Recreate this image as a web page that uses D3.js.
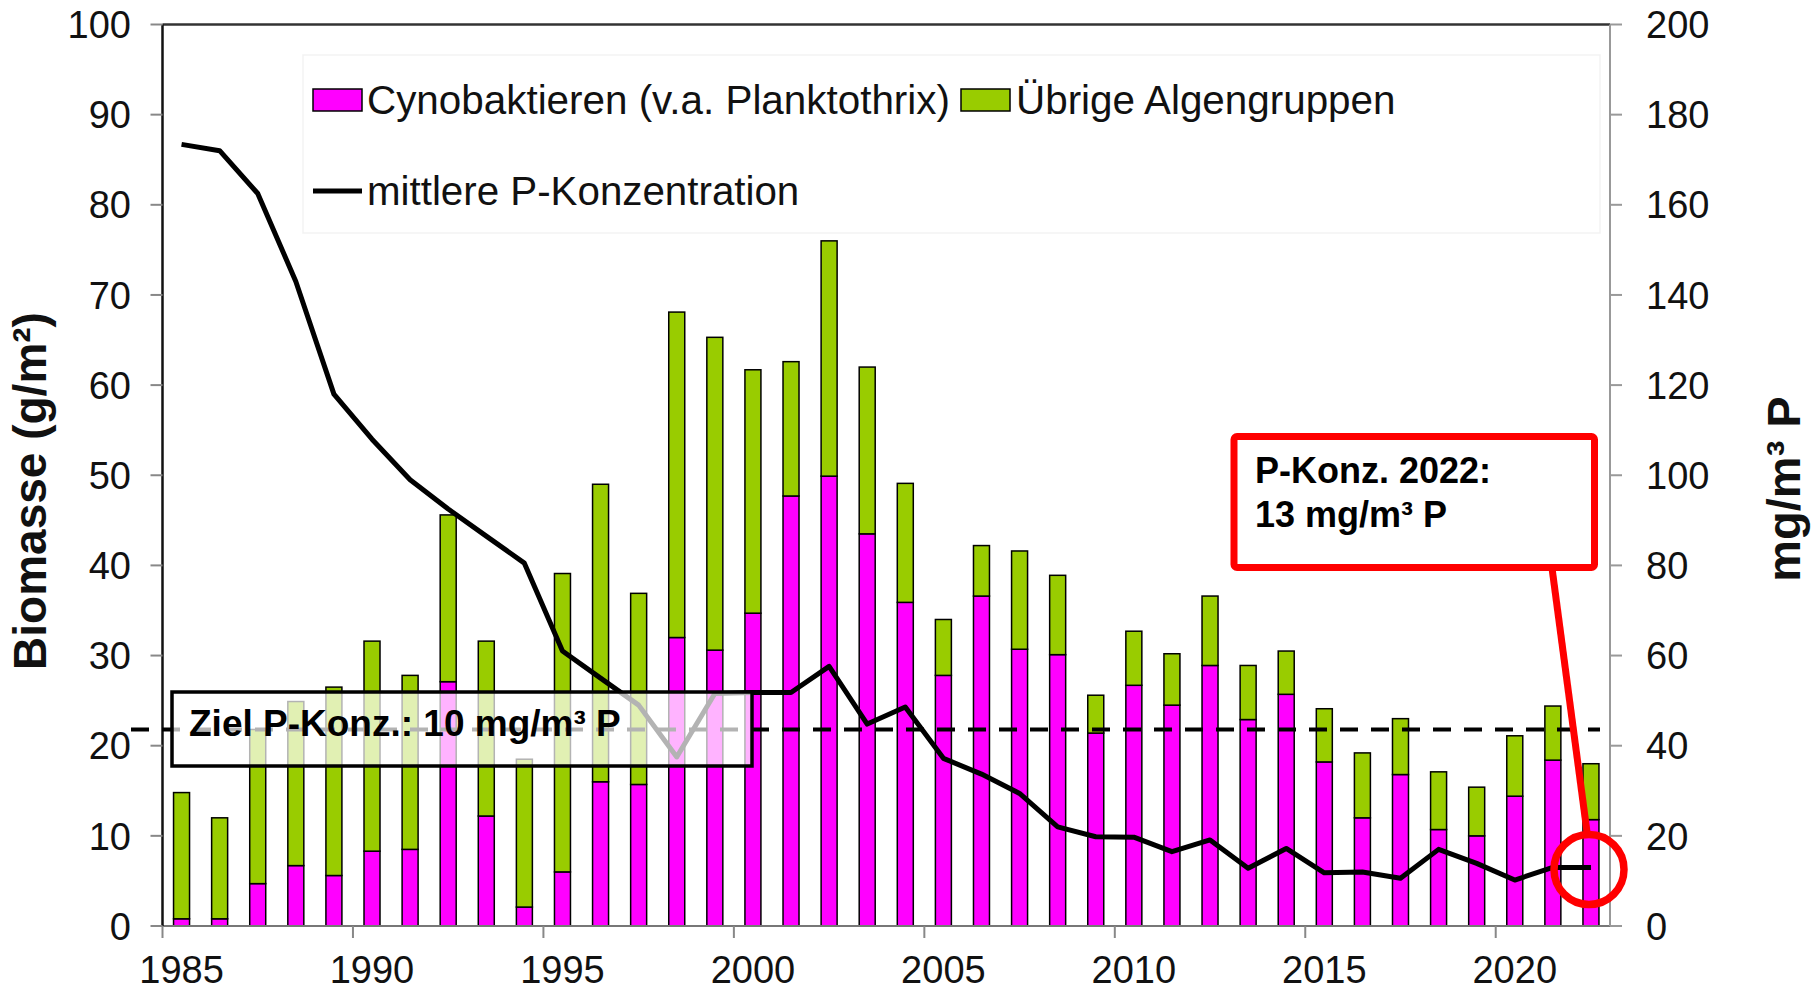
<!DOCTYPE html>
<html><head><meta charset="utf-8">
<script src="https://cdn.jsdelivr.net/npm/d3@7"></script>
<style>
html,body{margin:0;padding:0;background:#fff;}
svg{display:block;font-family:"Liberation Sans",Arial,sans-serif;}
</style></head>
<body>
<svg id="chart" width="1811" height="992"></svg>
<script>
const years = d3.range(1985, 2023);
const cyano = [0.8,0.8,4.7,6.7,5.6,8.3,8.5,27.1,12.2,2.1,6.0,16.0,15.7,32.0,30.6,34.7,47.7,49.9,43.5,35.9,27.8,36.6,30.7,30.1,21.4,26.7,24.5,28.9,22.9,25.7,18.2,12.0,16.8,10.7,10.0,14.4,18.4,11.8];
const other = [14.0,11.2,17.1,18.2,20.9,23.3,19.3,18.5,19.4,16.4,33.1,33.0,21.2,36.1,34.7,27.0,14.9,26.1,18.5,13.2,6.2,5.6,10.9,8.8,4.2,6.0,5.7,7.7,6.0,4.8,5.9,7.2,6.2,6.4,5.4,6.7,6.0,6.2];
const phosphor = [173.4,172.0,162.5,143.0,118.0,108.0,99.0,92.5,86.5,80.5,61.0,55.0,49.0,37.5,51.6,51.8,51.8,57.6,44.8,48.6,37.2,33.7,29.4,22.0,19.8,19.7,16.5,19.1,12.8,17.2,11.8,12.0,10.6,17.0,13.9,10.2,13.0,13.0];
const leftTicks = [0,10,20,30,40,50,60,70,80,90,100];
const rightTicks = [0,20,40,60,80,100,120,140,160,180,200];
const xTickYears = [1985,1990,1995,2000,2005,2010,2015,2020];
const targetLeft = 21.8;
const legendLabels = ["Cynobaktieren (v.a. Planktothrix)", "Übrige Algengruppen", "mittlere P-Konzentration"];
const leftTitle = "Biomasse (g/m²)";
const rightTitle = "mg/m³ P";
const targetLabel = "Ziel P-Konz.: 10 mg/m³ P";
const noteLines = ["P-Konz. 2022:", "13 mg/m³ P"];

const PINK = "#FF00FF", GREEN = "#99CC00", RED = "#FF0000";
const svg = d3.select("#chart");
const L = 162.5, R = 1610, T = 24.5, B = 926;

const x = d3.scaleBand().domain(years).range([L, R]).padding(0);
const yL = d3.scaleLinear().domain([0, 100]).range([B, T]);
const yR = d3.scaleLinear().domain([0, 200]).range([B, T]);
const cx = d => x(d) + x.bandwidth() / 2;
const barW = 16;

// legend frame (very faint)
svg.append("rect").attr("x", 303).attr("y", 55).attr("width", 1297).attr("height", 178)
  .attr("fill", "none").attr("stroke", "#f3f3f3").attr("stroke-width", 1.5);

// bars
const data = years.map((yr, i) => ({yr, c: cyano[i], o: other[i]}));
const bars = svg.append("g");
bars.selectAll("rect.c").data(data).join("rect")
  .attr("x", d => cx(d.yr) - barW / 2).attr("width", barW)
  .attr("y", d => yL(d.c)).attr("height", d => yL(0) - yL(d.c))
  .attr("fill", PINK).attr("stroke", "#000").attr("stroke-width", 1.5);
bars.selectAll("rect.o").data(data).join("rect")
  .attr("x", d => cx(d.yr) - barW / 2).attr("width", barW)
  .attr("y", d => yL(d.c + d.o)).attr("height", d => yL(d.c) - yL(d.c + d.o))
  .attr("fill", GREEN).attr("stroke", "#000").attr("stroke-width", 1.5);

// axes lines
svg.append("line").attr("x1", L).attr("x2", R).attr("y1", T).attr("y2", T).attr("stroke", "#333").attr("stroke-width", 2.5);
svg.append("line").attr("x1", L).attr("x2", R).attr("y1", B).attr("y2", B).attr("stroke", "#777").attr("stroke-width", 2);
svg.append("line").attr("x1", R).attr("x2", R).attr("y1", T).attr("y2", B).attr("stroke", "#999").attr("stroke-width", 2);
svg.append("line").attr("x1", L).attr("x2", L).attr("y1", T).attr("y2", B).attr("stroke", "#111").attr("stroke-width", 2.5);

// left axis ticks & labels
const gl = svg.append("g");
gl.selectAll("line").data(leftTicks).join("line")
  .attr("x1", L - 12).attr("x2", L).attr("y1", d => yL(d)).attr("y2", d => yL(d))
  .attr("stroke", "#888").attr("stroke-width", 2);
gl.selectAll("text").data(leftTicks).join("text")
  .attr("x", 131).attr("y", d => yL(d)).attr("dy", "0.36em")
  .attr("text-anchor", "end").attr("font-size", 38).attr("fill", "#111").text(d => d);

// right axis
const gr = svg.append("g");
gr.selectAll("line").data(rightTicks).join("line")
  .attr("x1", R).attr("x2", R + 12).attr("y1", d => yR(d)).attr("y2", d => yR(d))
  .attr("stroke", "#999").attr("stroke-width", 2);
gr.selectAll("text").data(rightTicks).join("text")
  .attr("x", 1646).attr("y", d => yR(d)).attr("dy", "0.36em")
  .attr("text-anchor", "start").attr("font-size", 38).attr("fill", "#111").text(d => d);

// bottom ticks & labels
const gb = svg.append("g");
gb.selectAll("line").data(xTickYears).join("line")
  .attr("x1", d => x(d)).attr("x2", d => x(d)).attr("y1", B).attr("y2", B + 12)
  .attr("stroke", "#888").attr("stroke-width", 2);
gb.selectAll("text").data(xTickYears).join("text")
  .attr("x", d => cx(d)).attr("y", 983)
  .attr("text-anchor", "middle").attr("font-size", 38).attr("fill", "#111").text(d => d);

// target dashed line
svg.append("line").attr("x1", 131).attr("x2", 1600).attr("y1", yL(targetLeft)).attr("y2", yL(targetLeft))
  .attr("stroke", "#000").attr("stroke-width", 4).attr("stroke-dasharray", "18,13");

// phosphorus line
const line = d3.line().x((d, i) => cx(years[i])).y(d => yR(d));
svg.append("path").datum(phosphor).attr("d", line)
  .attr("fill", "none").attr("stroke", "#000").attr("stroke-width", 5).attr("stroke-linejoin", "round");

// target box
svg.append("rect").attr("x", 172).attr("y", 692).attr("width", 580).attr("height", 74)
  .attr("fill", "#fff").attr("fill-opacity", 0.7).attr("stroke", "#000").attr("stroke-width", 3.5);
svg.append("text").attr("x", 189).attr("y", 736).attr("font-size", 37).attr("font-weight", "bold")
  .attr("fill", "#000").text(targetLabel);

// legend
svg.append("rect").attr("x", 313).attr("y", 89).attr("width", 49).attr("height", 22)
  .attr("fill", PINK).attr("stroke", "#000").attr("stroke-width", 1.5);
svg.append("text").attr("x", 367).attr("y", 114).attr("font-size", 40.4).attr("fill", "#111").text(legendLabels[0]);
svg.append("rect").attr("x", 961).attr("y", 89).attr("width", 49).attr("height", 22)
  .attr("fill", GREEN).attr("stroke", "#000").attr("stroke-width", 1.5);
svg.append("text").attr("x", 1016).attr("y", 114).attr("font-size", 40.4).attr("fill", "#111").text(legendLabels[1]);
svg.append("line").attr("x1", 313).attr("x2", 362).attr("y1", 191).attr("y2", 191)
  .attr("stroke", "#000").attr("stroke-width", 5);
svg.append("text").attr("x", 367).attr("y", 205).attr("font-size", 40.3).attr("fill", "#111").text(legendLabels[2]);

// axis titles
svg.append("text").attr("transform", "translate(46,491) rotate(-90)").attr("text-anchor", "middle")
  .attr("font-size", 46).attr("font-weight", "bold").attr("fill", "#111").text(leftTitle);
svg.append("text").attr("transform", "translate(1800,489) rotate(-90)").attr("text-anchor", "middle")
  .attr("font-size", 47).attr("font-weight", "bold").attr("fill", "#111").text(rightTitle);

// red annotation
svg.append("line").attr("x1", 1552).attr("y1", 568).attr("x2", 1587).attr("y2", 832)
  .attr("stroke", RED).attr("stroke-width", 7);
svg.append("circle").attr("cx", 1589).attr("cy", 869.5).attr("r", 35)
  .attr("fill", "none").attr("stroke", RED).attr("stroke-width", 7.5);
svg.append("rect").attr("x", 1234).attr("y", 436.5).attr("width", 360.5).attr("height", 131).attr("rx", 3)
  .attr("fill", "#fff").attr("stroke", RED).attr("stroke-width", 7);
svg.append("text").attr("x", 1255).attr("y", 483).attr("font-size", 36).attr("font-weight", "bold")
  .attr("fill", "#000").text(noteLines[0]);
svg.append("text").attr("x", 1255).attr("y", 527).attr("font-size", 36).attr("font-weight", "bold")
  .attr("fill", "#000").text(noteLines[1]);
</script>
</body></html>
